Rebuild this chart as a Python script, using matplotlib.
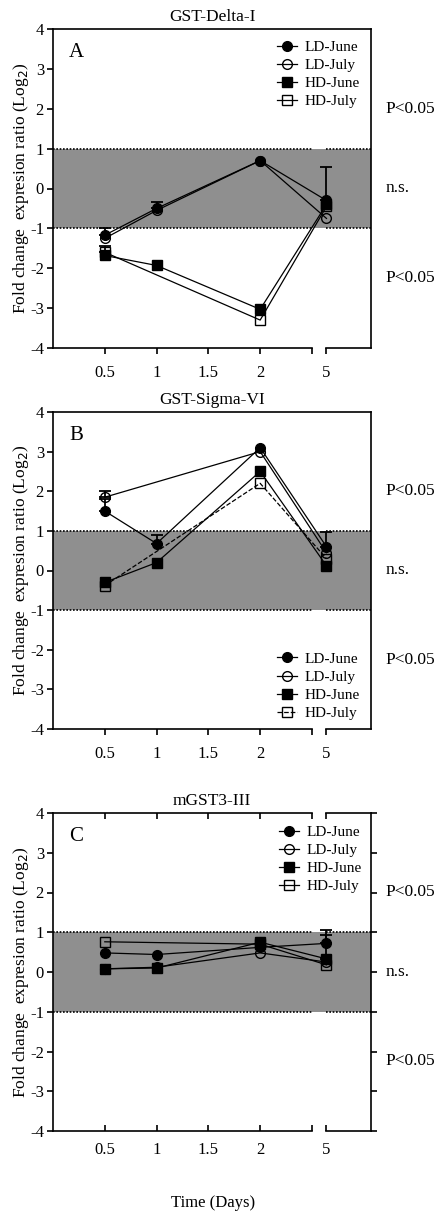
import numpy as np
import matplotlib
matplotlib.use('Agg')
import matplotlib.pyplot as plt

plt.rcParams['font.family'] = ['Liberation Serif', 'DejaVu Serif']
plt.rcParams['axes.unicode_minus'] = False

# time points (days) and tick labels
days = [0.5, 1, 2, 5]
tick_labels = ['0.5', '1', '1.5', '2', '5']
series_names = ['LD-June', 'LD-July', 'HD-June', 'HD-July']

# Panel A: GST-Delta-I
a_ld_june = [-1.17, -0.5, 0.7, -0.3]
a_ld_july = [-1.25, -0.55, 0.7, -0.75]
a_hd_june = [-1.68, -1.93, -3.03, -0.4]
a_hd_july = [-1.6, np.nan, -3.3, -0.45]
a_err_ld_june = [0.17, 0.15, 0, 0.85]
a_err_hd_july = [0.17, 0, 0, 0]

# Panel B: GST-Sigma-VI
b_ld_june = [1.5, 0.68, 3.1, 0.6]
b_ld_july = [1.85, np.nan, 3.0, 0.45]
b_hd_june = [-0.3, 0.2, 2.5, 0.12]
b_hd_july = [-0.38, np.nan, 2.2, 0.3]
b_err_ld_june = [0.3, 0.22, 0, 0.37]
b_err_ld_july = [0.15, 0, 0, 0]

# Panel C: mGST3-III
c_ld_june = [0.48, 0.44, 0.62, 0.72]
c_ld_july = [0.08, 0.12, 0.48, 0.25]
c_hd_june = [0.08, 0.1, 0.75, 0.33]
c_hd_july = [0.76, np.nan, 0.7, 0.18]
c_err_ld_june = [0, 0, 0, 0.33]
c_err_hd_june = [0, 0, 0, 0.6]

# broken x axis: 5 days sits just after the gap
BRK_L, BRK_R, XMAX = 2.5, 2.64, 3.07


def xpos(d):
    return np.array([v if v <= 2 else BRK_R for v in d])


styles = [
    dict(marker='o', mfc='black', mec='black'),
    dict(marker='o', mfc='none', mec='black'),
    dict(marker='s', mfc='black', mec='black'),
    dict(marker='s', mfc='none', mec='black'),
]


def panel(ax, title, letter, data, errs, legend_anchor, dashed_last=False,
          mirror=False):
    ax.set_xlim(0, XMAX)
    ax.set_ylim(-4, 4)
    # non-significant band
    ax.axhspan(-1, 1, color='#8f8f8f', lw=0, zorder=0)
    for yy in (-1, 1):
        ax.plot([0, BRK_L], [yy, yy], ls=(0, (1, 1)), color='black', lw=1.2, zorder=1)
        ax.plot([BRK_R, XMAX], [yy, yy], ls=(0, (1, 1)), color='black', lw=1.2, zorder=1)

    x = xpos(days)
    handles = []
    for i, (vals, name) in enumerate(zip(data, series_names)):
        v = np.array(vals, dtype=float)
        m = ~np.isnan(v)
        ls = '--' if (dashed_last and i == 3) else '-'
        h, = ax.plot(x[m], v[m], ls=ls, color='black', lw=0.9, ms=7,
                     label=name, zorder=3, **styles[i])
        handles.append(h)
        if errs[i] is not None:
            e = np.array(errs[i], dtype=float)
            k = e > 0
            ax.errorbar(x[k], v[k], yerr=[np.zeros(k.sum()), e[k]], fmt='none',
                        ecolor='black', elinewidth=1.3, capsize=4, capthick=1.3,
                        zorder=2)

    # bottom (and top) spine with break
    ax.spines['bottom'].set_visible(False)
    ax.plot([0, BRK_L], [-4, -4], color='black', lw=1.2, clip_on=False, zorder=5)
    ax.plot([BRK_R, XMAX], [-4, -4], color='black', lw=1.2, clip_on=False, zorder=5)
    if mirror:
        ax.spines['top'].set_visible(False)
        ax.plot([0, BRK_L], [4, 4], color='black', lw=1.2, clip_on=False, zorder=5)
        ax.plot([BRK_R, XMAX], [4, 4], color='black', lw=1.2, clip_on=False, zorder=5)
    for s in ('left', 'right', 'top'):
        ax.spines[s].set_linewidth(1.2)

    ax.set_xticks([0.5, 1, 1.5, 2, BRK_L, BRK_R])
    ax.set_xticklabels(tick_labels[:4] + [''] + tick_labels[4:])
    ax.set_yticks(range(-4, 5))
    ax.set_yticklabels([str(t) for t in range(-4, 5)])
    ax.tick_params(axis='both', labelsize=12, width=1.2, length=4.5)
    ax.tick_params(axis='x', pad=8)
    ax.tick_params(axis='y', pad=2)
    if mirror:
        ax.tick_params(axis='x', direction='in', top=True)
        ax.tick_params(axis='y', right=True)

    ax.set_title(title, fontsize=12.5, pad=6)
    ax.text(0.05, 0.925, letter, transform=ax.transAxes, fontsize=15,
            ha='left', va='center')
    ax.set_ylabel('Fold change  expresion ratio (Log$_2$)', fontsize=12.5)
    ax.yaxis.set_label_coords(-0.07, 0.5)

    for yv, t in ((2, 'P<0.05'), (0, 'n.s.'), (-2.25, 'P<0.05')):
        ax.text(1.045, (yv + 4) / 8, t, transform=ax.transAxes, fontsize=12.5,
                ha='left', va='center')

    ax.legend(handles=handles, loc='upper right', bbox_to_anchor=legend_anchor,
              frameon=False, fontsize=11, handlelength=1.3, handletextpad=0.5,
              labelspacing=0.29, borderaxespad=0)


fig = plt.figure(figsize=(4.43, 12.16), dpi=100)
L, W = 53 / 443, 318 / 443
axA = fig.add_axes([L, (1216 - 348) / 1216, W, 319 / 1216])
axB = fig.add_axes([L, (1216 - 729) / 1216, W, 317 / 1216])
axC = fig.add_axes([L, (1216 - 1131) / 1216, W, 318 / 1216])

panel(axA, 'GST-Delta-I', 'A',
      [a_ld_june, a_ld_july, a_hd_june, a_hd_july],
      [a_err_ld_june, None, None, a_err_hd_july], (0.985, 0.984))
panel(axB, 'GST-Sigma-VI', 'B',
      [b_ld_june, b_ld_july, b_hd_june, b_hd_july],
      [b_err_ld_june, b_err_ld_july, None, None], (0.985, 0.262),
      dashed_last=True)
panel(axC, 'mGST3-III', 'C',
      [c_ld_june, c_ld_july, c_hd_june, c_hd_july],
      [c_err_ld_june, None, c_err_hd_june, None], (0.99, 0.981),
      mirror=True)

fig.text(213 / 443, 13 / 1216, 'Time (Days)', fontsize=12, ha='center', va='center')

fig.savefig('out.png', dpi=100)
